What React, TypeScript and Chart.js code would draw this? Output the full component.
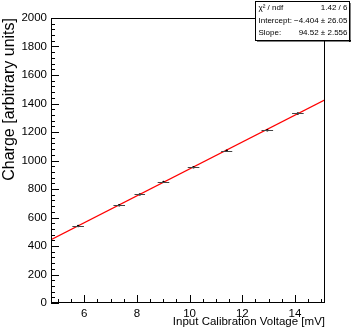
import React, { useEffect, useRef } from "react";
import { Chart, registerables } from "chart.js";

Chart.register(...registerables);

// Data
const voltage = [5.77, 7.33, 8.11, 9.01, 10.15, 11.41, 12.95, 14.11];
const charge = [540, 686, 762, 850, 953, 1068, 1212, 1330];
const voltageErr = [0.22, 0.22, 0.2, 0.22, 0.22, 0.21, 0.22, 0.22];

const xTicks = [6, 8, 10, 12, 14];
const yTicks = [0, 200, 400, 600, 800, 1000, 1200, 1400, 1600, 1800, 2000];

// Fit parameters (from the stat box)
const fitIntercept = -4.404;
const fitSlope = 94.52;
const fitRange = [4.74, 15.14];

const statLabels = ["χ² / ndf", "Intercept:", "Slope:"];
const statValues = ["1.42 / 6", "−4.404 ± 26.05", "94.52 ± 2.556"];

const FONT = "'Liberation Sans', Arial, Helvetica, sans-serif";

const rootPlugin = {
  id: "rootStyle",
  afterDatasetsDraw(chart: any) {
    const { ctx, scales } = chart;
    const xs = scales.x;
    const ys = scales.y;
    ctx.save();
    ctx.strokeStyle = "#444";
    ctx.lineWidth = 1;
    for (let i = 0; i < voltage.length; i++) {
      const y = Math.round(ys.getPixelForValue(charge[i])) + 0.5;
      const x1 = xs.getPixelForValue(voltage[i] - voltageErr[i]);
      const x2 = xs.getPixelForValue(voltage[i] + voltageErr[i]);
      ctx.beginPath();
      ctx.moveTo(x1, y);
      ctx.lineTo(x2, y);
      ctx.stroke();
    }
    ctx.restore();
  },
  afterDraw(chart: any) {
    const { ctx, chartArea, scales } = chart;
    const xs = scales.x;
    const ys = scales.y;
    const { left, right, top, bottom } = chartArea;
    ctx.save();
    ctx.strokeStyle = "#000";
    ctx.lineWidth = 1;
    // frame
    ctx.strokeRect(left + 0.5, top + 0.5, right - left - 1, bottom - top - 1);
    // x ticks (inward)
    for (let v = 5; v <= 15.001; v += 0.5) {
      const px = Math.round(xs.getPixelForValue(v)) + 0.5;
      if (px < left || px > right) continue;
      const major = Math.abs(v / 2 - Math.round(v / 2)) < 1e-6;
      const len = major ? 8 : 4;
      ctx.beginPath();
      ctx.moveTo(px, bottom);
      ctx.lineTo(px, bottom - len);
      ctx.stroke();
    }
    // y ticks (inward)
    for (let v = 0; v <= 2000; v += 40) {
      const py = Math.round(ys.getPixelForValue(v)) + 0.5;
      const major = v % 200 === 0;
      const len = major ? 8 : 4;
      ctx.beginPath();
      ctx.moveTo(left, py);
      ctx.lineTo(left + len, py);
      ctx.stroke();
    }
    // stat box
    const bx = 255.5, by = 1.5, bw = 94, bh = 39;
    ctx.fillStyle = "#000";
    ctx.fillRect(bx + 1.5, by + bh - 0.5, bw, 1.5);
    ctx.fillRect(bx + bw - 0.5, by + 1.5, 1.5, bh);
    ctx.fillStyle = "#fff";
    ctx.fillRect(bx, by, bw, bh);
    ctx.strokeRect(bx, by, bw, bh);
    ctx.fillStyle = "#000";
    ctx.font = `8px ${FONT}`;
    ctx.textBaseline = "middle";
    for (let i = 0; i < statLabels.length; i++) {
      const ty = 8 + i * 12.5;
      ctx.textAlign = "left";
      ctx.fillText(statLabels[i], bx + 3, ty);
      ctx.textAlign = "right";
      ctx.fillText(statValues[i], bx + bw - 2, ty);
    }
    ctx.restore();
  },
};

export default function App() {
  const ref = useRef<HTMLCanvasElement>(null);
  useEffect(() => {
    document.body.style.margin = "0";
    const canvas = ref.current!;
    const chart = new Chart(canvas, {
      type: "scatter",
      data: {
        datasets: [
          {
            type: "line",
            data: fitRange.map((x) => ({ x, y: fitIntercept + fitSlope * x })),
            borderColor: "#ff0000",
            borderWidth: 1.3,
            pointRadius: 0,
            fill: false,
            order: 2,
          } as any,
          {
            data: voltage.map((x, i) => ({ x, y: charge[i] })),
            backgroundColor: "#000",
            borderColor: "#000",
            pointRadius: 1.2,
            borderWidth: 0,
            order: 1,
          },
        ],
      },
      options: {
        animation: false,
        responsive: false,
        layout: { padding: { top: 18, right: 27, left: 0, bottom: 0 } },
        plugins: { legend: { display: false }, tooltip: { enabled: false } },
        scales: {
          x: {
            type: "linear",
            min: fitRange[0],
            max: fitRange[1],
            afterFit(s: any) {
              s.height = 25;
            },
            afterBuildTicks(s: any) {
              s.ticks = xTicks.map((v) => ({ value: v }));
            },
            grid: { display: false, drawTicks: false },
            border: { display: false },
            ticks: {
              padding: 4,
              color: "#000",
              font: { family: FONT, size: 11.5 },
              maxRotation: 0,
              autoSkip: false,
              callback: (v: any) => String(v),
            },
            title: {
              display: true,
              text: "Input Calibration Voltage [mV]",
              align: "end",
              color: "#000",
              font: { family: FONT, size: 11.5 },
              padding: { top: 0, bottom: -1 },
            },
          },
          y: {
            type: "linear",
            min: 0,
            max: 2000,
            afterFit(s: any) {
              s.width = 51;
            },
            afterBuildTicks(s: any) {
              s.ticks = yTicks.map((v) => ({ value: v }));
            },
            grid: { display: false, drawTicks: false },
            border: { display: false },
            ticks: {
              padding: 4,
              color: "#000",
              font: { family: FONT, size: 11.5 },
              autoSkip: false,
              callback: (v: any) => String(v),
            },
            title: {
              display: true,
              text: "Charge [arbitrary units]",
              align: "end",
              color: "#000",
              font: { family: FONT, size: 16 },
              padding: { top: 0, bottom: 0 },
            },
          },
        },
      } as any,
      plugins: [rootPlugin],
    });
    return () => chart.destroy();
  }, []);
  return (
    <div style={{ position: "absolute", left: 0, top: 0, width: 352, height: 328 }}>
      <canvas ref={ref} width={352} height={328} style={{ display: "block" }} />
    </div>
  );
}
